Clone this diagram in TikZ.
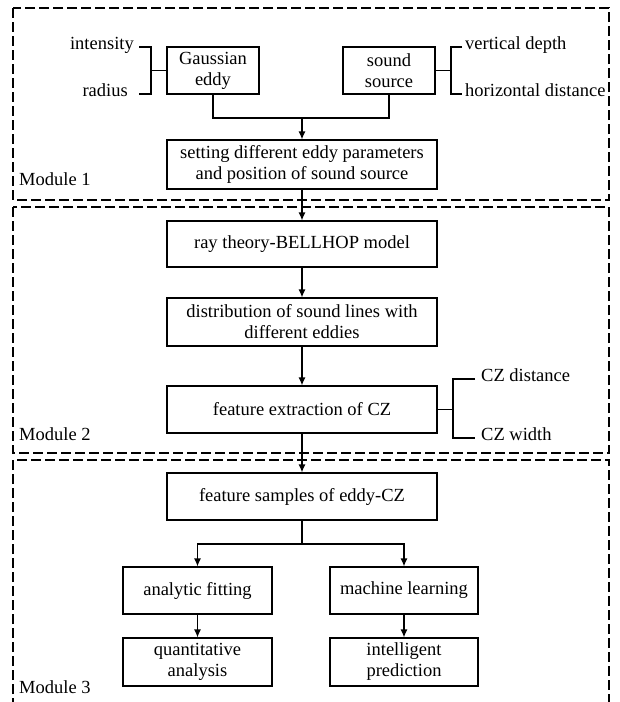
\documentclass[tikz,border=0pt]{standalone}
\usepackage{fontspec}
\setmainfont{Liberation Serif}
\usetikzlibrary{arrows.meta}
\begin{document}
\begin{tikzpicture}[x=1pt,y=-1pt,
  font=\fontsize{18.5}{21}\selectfont,
  box/.style={draw, line width=1.2pt, align=center, inner sep=0pt},
  modline/.style={line width=1.1pt, dash pattern=on 10pt off 4pt},
  conn/.style={line width=1.2pt},
  arr/.style={line width=1.2pt, -{Latex[length=8pt,width=7pt]}},
  lbl/.style={inner sep=0pt}]
\useasboundingbox (0,0) rectangle (619,702);
\fill[white] (0,0) rectangle (619,702);
% module frames
\draw[modline] (13,8) rectangle (609,200);
\draw[modline] (13,207) rectangle (609,453);
\draw[modline] (13,708) -- (13,460) -- (609,460) -- (609,708);
\node[lbl, anchor=base west] (m1) at (19,185) {Module 1};
\node[lbl, anchor=base west] (m2) at (19,440) {Module 2};
\node[lbl, anchor=base west] (m3) at (19,693) {Module 3};
% boxes
\node[box, minimum width=92pt, minimum height=47pt] (gauss) at (213,70.5) {Gaussian\\eddy};
\node[box, minimum width=92pt, minimum height=47pt] (sound) at (389,70.5) {sound\\source};
\node[box, minimum width=270pt, minimum height=49pt] (setting) at (302,164.5) {setting different eddy parameters\\and position of sound source};
\node[box, minimum width=270pt, minimum height=46pt] (ray) at (302,244) {ray theory-BELLHOP model};
\node[box, minimum width=270pt, minimum height=48pt] (dist) at (302,322) {distribution of sound lines with\\different eddies};
\node[box, minimum width=270pt, minimum height=47pt] (feat) at (302,409.5) {feature extraction of CZ};
\node[box, minimum width=270pt, minimum height=47pt] (samples) at (302,496.5) {feature samples of eddy-CZ};
\node[box, minimum width=149pt, minimum height=47pt] (analytic) at (197.5,590.5) {analytic fitting};
\node[box, minimum width=148pt, minimum height=47pt] (machine) at (404,590.5) {machine learning};
\node[box, minimum width=149pt, minimum height=48pt] (quant) at (197.5,662) {quantitative\\analysis};
\node[box, minimum width=148pt, minimum height=48pt] (intel) at (404,662) {intelligent\\prediction};
% side labels
\node[lbl, anchor=mid east] (intensity) at (134,47) {intensity};
\node[lbl, anchor=mid east] (radius) at (128,94) {radius};
\node[lbl, anchor=mid west] (vdepth) at (465,47) {vertical depth};
\node[lbl, anchor=mid west] (hdist) at (465,94) {horizontal distance};
\node[lbl, anchor=mid west] (czd) at (481,379) {CZ distance};
\node[lbl, anchor=mid west] (czw) at (481,438) {CZ width};
% brackets
\coordinate (lb) at (151,70.5);
\coordinate (lbt) at (139,47);
\coordinate (lbb) at (139,94);
\draw[conn] (lbt) -| (lb) |- (lbb);
\draw[conn] (lb) -- (gauss.west);
\coordinate (rb) at (451,70.5);
\coordinate (rbt) at (462,47);
\coordinate (rbb) at (462,94);
\draw[conn] (rbt) -| (rb) |- (rbb);
\draw[conn] (sound.east) -- (rb);
\coordinate (cb) at (453,409.5);
\coordinate (cbt) at (475,379);
\coordinate (cbb) at (475,438);
\draw[conn] (cbt) -| (cb) |- (cbb);
\draw[conn] (feat.east) -- (cb);
% flow
\coordinate (j1) at (302,118);
\draw[conn] (gauss.south) |- (j1);
\draw[conn] (sound.south) |- (j1);
\draw[arr] (j1) -- (setting.north);
\draw[arr] (setting.south) -- (ray.north);
\draw[arr] (ray.south) -- (dist.north);
\draw[arr] (dist.south) -- (feat.north);
\draw[arr] (feat.south) -- (samples.north);
\coordinate (j2) at (302,544);
\draw[conn] (samples.south) -- (j2);
\draw[arr] (j2) -| (analytic.north);
\draw[arr] (j2) -| (machine.north);
\draw[arr] (analytic.south) -- (quant.north);
\draw[arr] (machine.south) -- (intel.north);
\end{tikzpicture}
\end{document}
